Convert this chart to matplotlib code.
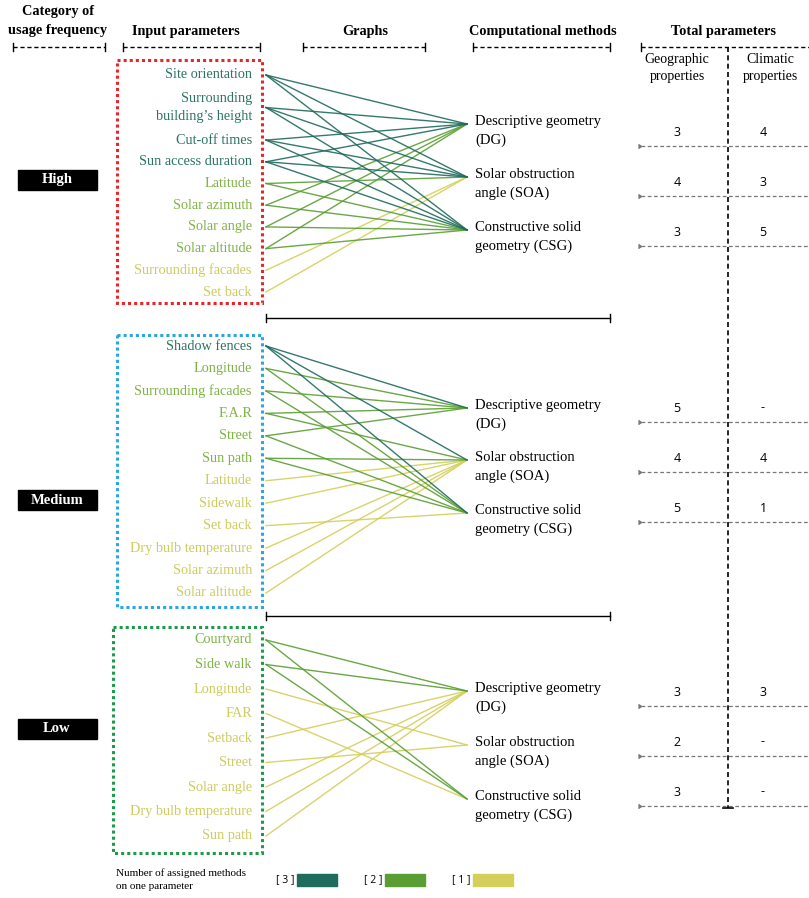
import matplotlib.pyplot as plt
from matplotlib.patches import Rectangle
import numpy as np

# ---- data ----
categories = ["High", "Medium", "Low"]
methods = ["Descriptive geometry\n(DG)", "Solar obstruction\nangle (SOA)",
           "Constructive solid\ngeometry (CSG)"]

high_params = ["Site orientation", "Surrounding\nbuilding\u2019s height", "Cut-off times",
               "Sun access duration", "Latitude", "Solar azimuth", "Solar angle",
               "Solar altitude", "Surrounding facades", "Set back"]
high_links = [[0, 1, 2], [0, 1, 2], [0, 1, 2], [0, 1, 2], [1, 2], [0, 2], [0, 2],
              [0, 2], [1], [1]]

medium_params = ["Shadow fences", "Longitude", "Surrounding facades", "F.A.R", "Street",
                 "Sun path", "Latitude", "Sidewalk", "Set back", "Dry bulb temperature",
                 "Solar azimuth", "Solar altitude"]
medium_links = [[0, 1, 2], [0, 2], [0, 2], [0, 1], [0, 2], [1, 2], [1], [1], [2], [1],
                [1], [1]]

low_params = ["Courtyard", "Side walk", "Longitude", "FAR", "Setback", "Street",
              "Solar angle", "Dry bulb temperature", "Sun path"]
low_links = [[0, 2], [0, 2], [1], [2], [0], [1], [0], [0], [0]]

geographic = [["3", "4", "3"], ["5", "4", "5"], ["3", "2", "3"]]
climatic = [["4", "3", "5"], ["-", "4", "1"], ["3", "-", "-"]]

legend_levels = [3, 2, 1]

# ---- style ----
line_col = {3: "#1f6b5d", 2: "#5a9e33", 1: "#d4cf5a"}
text_col = {3: "#2a7563", 2: "#7fb445", 1: "#cdcc5e"}
box_col = ["#e8262a", "#2aa6e0", "#1f9a4a"]
serif = "Liberation Serif"

fig = plt.figure(figsize=(8.09, 8.98), dpi=100)
ax = fig.add_axes([0, 0, 1, 1])
ax.set_xlim(0, 809)
ax.set_ylim(898, 0)
ax.axis("off")


def bracket(x0, x1, y, ls=(0, (3, 2)), color="black", lw=1.0, tick=4):
    ax.plot([x0, x1], [y, y], ls=ls, color=color, lw=lw)
    ax.plot([x0, x0], [y - tick, y + tick], color=color, lw=lw)
    ax.plot([x1, x1], [y - tick, y + tick], color=color, lw=lw)


# headers
hdr = dict(family=serif, fontweight="bold", fontsize=10.3, ha="center", va="center")
ax.text(58, 21, "Category of\nusage frequency", linespacing=1.55, **hdr)
ax.text(186, 31, "Input parameters", **hdr)
ax.text(365, 31, "Graphs", **hdr)
ax.text(543, 31, "Computational methods", **hdr)
ax.text(724, 31, "Total parameters", **hdr)
for x0, x1 in [(13, 105), (123, 260), (303, 425), (473, 610)]:
    bracket(x0, x1, 47)
ax.plot([641, 809], [47, 47], ls=(0, (3, 2)), color="black", lw=1.0)
ax.plot([641, 641], [43, 51], color="black", lw=1.0)
ax.plot([728, 728], [47, 808], ls=(0, (3, 2)), color="black", lw=1.2)
ax.plot([723, 733], [808, 808], color="black", lw=1.2)
ax.text(677, 68, "Geographic\nproperties", family=serif, fontsize=10, ha="center",
        va="center", linespacing=1.4)
ax.text(770, 68, "Climatic\nproperties", family=serif, fontsize=10, ha="center",
        va="center", linespacing=1.4)

groups = [(high_params, high_links), (medium_params, medium_links), (low_params, low_links)]
# layout: label span (top, bottom), method convergence y, table row lines, box, category y
spans = [(75, 292), (346, 593), (640, 836)]
conv = [(124, 177, 230), (408, 460, 513), (691, 745, 799)]
table_top = [146, 422, 706]
table_step = 50
boxes = [(117, 60, 262, 303), (117, 335, 262, 607), (113, 627, 262, 853)]
cat_y = [180, 500, 729]
x_label, x_start, x_end = 252, 266, 467

for g, (params, links) in enumerate(groups):
    heights = np.array([p.count("\n") + 1 for p in params], dtype=float)
    gaps = (heights[:-1] + heights[1:]) / 2
    pos = np.concatenate([[0], np.cumsum(gaps)])
    top, bottom = spans[g]
    ys = top + pos / pos[-1] * (bottom - top)

    for p, lk, y in zip(params, links, ys):
        n = len(lk)
        ax.text(x_label, y, p, family=serif, fontsize=10.3, color=text_col[n],
                ha="right", va="center", linespacing=1.45)
        for m in lk:
            ax.plot([x_start, x_end], [y, conv[g][m]], color=line_col[n], lw=1.0,
                    alpha=0.9, zorder=2 + n)

    for m, name in enumerate(methods):
        ax.text(475, conv[g][m] + 7, name, family=serif, fontsize=10.5, ha="left",
                va="center", linespacing=1.5)
        ly = table_top[g] + m * table_step
        ax.text(677, ly - 14, geographic[g][m], family="Open Sans", fontsize=9,
                ha="center", va="center")
        ax.text(763, ly - 14, climatic[g][m], family="Open Sans", fontsize=9,
                ha="center", va="center")
        ax.plot([641, 809], [ly, ly], ls=(0, (3, 2)), color="#777777", lw=0.9)
        ax.plot([641], [ly], marker=5, color="#777777", ms=3)

    x0, y0, x1, y1 = boxes[g]
    ax.add_patch(Rectangle((x0, y0), x1 - x0, y1 - y0, fill=False, ec=box_col[g],
                           lw=2.2, ls=(0, (1, 1))))

    ax.add_patch(Rectangle((18, cat_y[g] - 10), 79, 20, color="black"))
    ax.text(57, cat_y[g], categories[g], color="white", family=serif, fontweight="bold",
            fontsize=10.5, ha="center", va="center")

# separators
for y in (318, 616):
    ax.plot([266, 610], [y, y], color="black", lw=1.0)
    ax.plot([266, 266], [y - 4, y + 4], color="black", lw=1.0)
    ax.plot([610, 610], [y - 4, y + 4], color="black", lw=1.0)

# legend
ax.text(116, 880, "Number of assigned methods\non one parameter", family=serif,
        fontsize=8, ha="left", va="center", linespacing=1.6)
for i, lvl in enumerate(legend_levels):
    xs = 285 + i * 88
    ax.text(xs, 880, "[ %d ]" % lvl, family="Open Sans", fontsize=7.5, ha="center",
            va="center")
    ax.add_patch(Rectangle((xs + 12, 874), 40, 12, color=line_col[lvl]))

fig.savefig("out.png", dpi=100)
